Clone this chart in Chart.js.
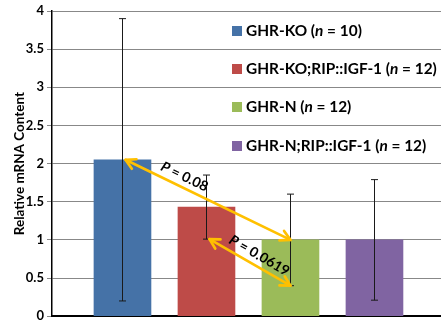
<!DOCTYPE html>
<html>
<head>
<meta charset="utf-8">
<script src="https://cdn.jsdelivr.net/npm/chart.js@4/dist/chart.umd.min.js"></script>
<style>
  html, body { margin: 0; padding: 0; background: #fff; }
  #wrap { width: 441px; height: 327px; }
</style>
</head>
<body>
<div id="wrap"><canvas id="c" width="441" height="327"></canvas></div>
<script>
// Groups, sample sizes and relative mRNA content (mean and error)
const categories = ['GHR-KO', 'GHR-KO;RIP::IGF-1', 'GHR-N', 'GHR-N;RIP::IGF-1'];
const groupSizes = [10, 12, 12, 12];
const means = [2.05, 1.43, 1.0, 1.0];
const errors = [1.85, 0.42, 0.6, 0.79];
const barColors = ['#4572A7', '#BE4B48', '#9BBB59', '#8064A2'];
const yTicks = [0, 0.5, 1, 1.5, 2, 2.5, 3, 3.5, 4];

// Pairwise comparisons: [group A, group B, which level ('mean' or 'low'), p value]
const comparisons = [
  { a: 0, b: 2, level: 'mean', p: '0.08' },
  { a: 1, b: 2, level: 'low', p: '0.0619' }
];

const FONT = 'Lato, "Open Sans", "DejaVu Sans", sans-serif';
const xPos = categories.map((_, i) => i + 1);

function levelValue(i, level) {
  return level === 'mean' ? means[i] : means[i] - errors[i];
}

const errorBars = {
  id: 'errorBars',
  afterDatasetsDraw(chart) {
    const { ctx, scales: { x, y } } = chart;
    ctx.save();
    ctx.strokeStyle = '#1a1a1a';
    ctx.lineWidth = 1;
    means.forEach((m, i) => {
      const px = Math.round(x.getPixelForValue(xPos[i])) + 0.5;
      const top = y.getPixelForValue(m + errors[i]);
      const bot = y.getPixelForValue(m - errors[i]);
      ctx.beginPath();
      ctx.moveTo(px, top); ctx.lineTo(px, bot);
      ctx.moveTo(px - 3.5, top); ctx.lineTo(px + 3.5, top);
      ctx.moveTo(px - 3.5, bot); ctx.lineTo(px + 3.5, bot);
      ctx.stroke();
    });
    ctx.restore();
  }
};

function arrowHead(ctx, tx, ty, ang) {
  const len = 11, spread = 0.5;
  ctx.beginPath();
  ctx.moveTo(tx + len * Math.cos(ang + spread), ty + len * Math.sin(ang + spread));
  ctx.lineTo(tx, ty);
  ctx.lineTo(tx + len * Math.cos(ang - spread), ty + len * Math.sin(ang - spread));
  ctx.stroke();
}

const pArrows = {
  id: 'pArrows',
  afterDatasetsDraw(chart) {
    const { ctx, scales: { x, y } } = chart;
    ctx.save();
    comparisons.forEach((c) => {
      const x1 = x.getPixelForValue(xPos[c.a]) + 3;
      const y1 = y.getPixelForValue(levelValue(c.a, c.level));
      const x2 = x.getPixelForValue(xPos[c.b]);
      const y2 = y.getPixelForValue(levelValue(c.b, c.level));
      const ang = Math.atan2(y2 - y1, x2 - x1);
      ctx.strokeStyle = '#FFC000';
      ctx.lineWidth = 2.7;
      ctx.lineCap = 'round';
      ctx.lineJoin = 'round';
      ctx.beginPath();
      ctx.moveTo(x1, y1); ctx.lineTo(x2, y2);
      ctx.stroke();
      arrowHead(ctx, x1, y1, ang);
      arrowHead(ctx, x2, y2, ang + Math.PI);

      // p-value label laid along the arrow, just above it
      const frac = c.level === 'mean' ? 0.33 : 0.55;
      const mx = x1 + (x2 - x1) * frac;
      const my = y1 + (y2 - y1) * frac;
      ctx.save();
      ctx.translate(mx, my);
      ctx.rotate(ang);
      ctx.fillStyle = '#000';
      ctx.textBaseline = 'alphabetic';
      const parts = [
        { t: 'P', f: 'italic bold 14px ' + FONT },
        { t: ' = ' + c.p, f: 'bold 14px ' + FONT }
      ];
      let w = 0;
      parts.forEach(p => { ctx.font = p.f; w += ctx.measureText(p.t).width; });
      let cx = -w / 2;
      parts.forEach(p => {
        ctx.font = p.f;
        ctx.fillText(p.t, cx, -6);
        cx += ctx.measureText(p.t).width;
      });
      ctx.restore();
    });
    ctx.restore();
  }
};

const legendBox = {
  id: 'legendBox',
  afterDraw(chart) {
    const { ctx, scales: { y } } = chart;
    ctx.save();
    ctx.textBaseline = 'middle';
    categories.forEach((name, i) => {
      // each entry sits between two gridlines near the top
      const cy = Math.round((y.getPixelForValue(4 - 0.5 * i) + y.getPixelForValue(3.5 - 0.5 * i)) / 2) + 1;
      ctx.fillStyle = barColors[i];
      ctx.fillRect(232, cy - 5, 10, 10);
      ctx.fillStyle = '#000';
      const parts = [
        { t: name + ' (', f: 'bold 15.4px ' + FONT },
        { t: 'n', f: 'italic bold 15.4px ' + FONT },
        { t: ' = ' + groupSizes[i] + ')', f: 'bold 15.4px ' + FONT }
      ];
      let tx = 246;
      parts.forEach(p => {
        ctx.font = p.f;
        ctx.fillText(p.t, tx, cy);
        tx += ctx.measureText(p.t).width;
      });
    });
    ctx.restore();
  }
};

new Chart(document.getElementById('c'), {
  type: 'bar',
  data: {
    datasets: [{
      data: means.map((m, i) => ({ x: xPos[i], y: m })),
      backgroundColor: barColors,
      borderWidth: 0,
      barThickness: 57
    }]
  },
  options: {
    responsive: false,
    devicePixelRatio: 1,
    animation: false,
    events: [],
    layout: { padding: { top: 11, right: 0, bottom: 10, left: 0 } },
    plugins: { legend: { display: false }, tooltip: { enabled: false } },
    scales: {
      x: {
        type: 'linear',
        offset: false,
        min: 0.161,
        max: 4.792,
        ticks: { display: false },
        grid: { display: false, drawTicks: false, offset: false },
        border: { color: '#000', width: 2 },
        afterFit(s) { s.height = 0; }
      },
      y: {
        min: 0,
        max: 4,
        afterBuildTicks(s) { s.ticks = yTicks.map(v => ({ value: v })); },
        ticks: {
          color: '#000',
          font: { family: FONT, size: 13, weight: 'bold' },
          padding: 3,
          callback: v => String(v)
        },
        grid: { color: '#888', lineWidth: 1, tickLength: 5, tickColor: '#888' },
        border: { color: '#000', width: 1.5 },
        title: {
          display: true,
          text: 'Relative mRNA Content',
          color: '#000',
          font: { family: FONT, size: 13.5, weight: 'bold' },
          padding: { top: 12, bottom: 0 }
        },
        afterFit(s) { s.width = 52; }
      }
    }
  },
  plugins: [errorBars, pArrows, legendBox]
});
</script>
</body>
</html>
